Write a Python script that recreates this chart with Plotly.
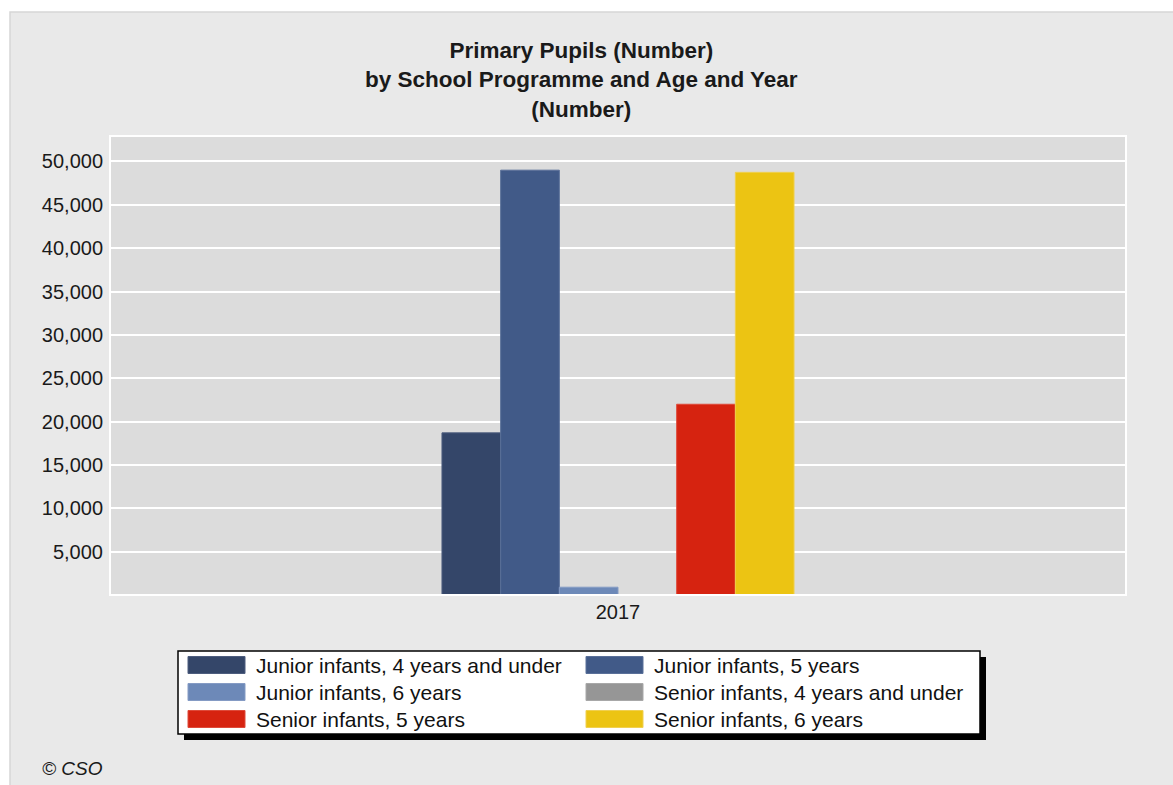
import plotly.graph_objects as go

categories = ["2017"]
series_names = [
    "Junior infants, 4 years and under",
    "Junior infants, 5 years",
    "Junior infants, 6 years",
    "Senior infants, 4 years and under",
    "Senior infants, 5 years",
    "Senior infants, 6 years",
]
series_values = [
    [18700],
    [49000],
    [900],
    [0],
    [22000],
    [48750],
]
series_colors = ["#344669", "#415a88", "#6d89b8", "#969696", "#d62310", "#ecc413"]
line_colors = ["#4d5d7e", "#5a7099", "#859bc4", "#a8a8a8", "#de4a3a", "#f0d050"]
y_ticks = [5000, 10000, 15000, 20000, 25000, 30000, 35000, 40000, 45000, 50000]
y_tick_labels = ["5,000", "10,000", "15,000", "20,000", "25,000", "30,000",
                 "35,000", "40,000", "45,000", "50,000"]

W, H = 1173, 785
L, R, T, B = 110, 47, 136, 190
PW, PH = W - L - R, H - T - B


def xp(px):
    return (px - L) / PW


def yp(py):
    return (H - B - py) / PH


fig = go.Figure()
for name, vals, col, lc in zip(series_names, series_values, series_colors, line_colors):
    fig.add_trace(go.Bar(
        x=categories, y=vals, name=name,
        marker=dict(color=col, line=dict(color=lc, width=1)),
        showlegend=False,
    ))

FONT = "Liberation Sans, Arial, sans-serif"
shapes = []
# outer grey panel
shapes.append(dict(type="rect", xref="paper", yref="paper", layer="below",
                   x0=xp(10), x1=xp(1180), y0=yp(800), y1=yp(12),
                   fillcolor="#e9e9e9", line=dict(color="#d6d6d6", width=1.5)))
# plot area
shapes.append(dict(type="rect", xref="paper", yref="paper", layer="below",
                   x0=0, x1=1, y0=0, y1=1,
                   fillcolor="#dcdcdc", line=dict(width=0)))
shapes.append(dict(type="rect", xref="paper", yref="paper", layer="above",
                   x0=0, x1=1, y0=0, y1=1,
                   fillcolor="rgba(0,0,0,0)", line=dict(color="#ffffff", width=2)))

# legend box with shadow
lx0, lx1, ly0, ly1 = 178, 980, 651, 734
shapes.append(dict(type="rect", xref="paper", yref="paper", layer="above",
                   x0=xp(lx0 + 6), x1=xp(lx1 + 6), y0=yp(ly1 + 6), y1=yp(ly0 + 6),
                   fillcolor="#000000", line=dict(width=0)))
shapes.append(dict(type="rect", xref="paper", yref="paper", layer="above",
                   x0=xp(lx0), x1=xp(lx1), y0=yp(ly1), y1=yp(ly0),
                   fillcolor="#ffffff", line=dict(color="#000000", width=1.5)))

annotations = []
col_x = [188, 586]
row_y = [665, 692, 719]
for i, (name, col) in enumerate(zip(series_names, series_colors)):
    cx = col_x[i % 2]
    cy = row_y[i // 2]
    shapes.append(dict(type="rect", xref="paper", yref="paper", layer="above",
                       x0=xp(cx), x1=xp(cx + 57), y0=yp(cy + 8.5), y1=yp(cy - 8.5),
                       fillcolor=col, line=dict(color=line_colors[i], width=1)))
    annotations.append(dict(xref="paper", yref="paper", x=xp(cx + 66), y=yp(cy),
                            xanchor="left", yanchor="middle", showarrow=False,
                            text=name, font=dict(family=FONT, size=21, color="#111111")))

# title
annotations.append(dict(xref="paper", yref="paper", x=xp(581), y=yp(80),
                        xanchor="center", yanchor="middle", showarrow=False,
                        text="<b>Primary Pupils (Number)</b><br><b>by School Programme and Age and Year</b><br><b>(Number)</b>",
                        font=dict(family=FONT, size=22.5, color="#1a1a1a")))
# source
annotations.append(dict(xref="paper", yref="paper", x=xp(40), y=yp(768),
                        xanchor="left", yanchor="middle", showarrow=False,
                        text="<i>© CSO</i>",
                        font=dict(family=FONT, size=19, color="#1a1a1a")))

fig.update_layout(
    width=W, height=H,
    margin=dict(l=L, r=R, t=T, b=B, pad=0),
    paper_bgcolor="#ffffff",
    plot_bgcolor="#dcdcdc",
    barmode="group",
    bargap=0.6535,
    bargroupgap=0,
    shapes=shapes,
    annotations=annotations,
    showlegend=False,
    font=dict(family=FONT, size=20, color="#1a1a1a"),
)
fig.update_xaxes(type="category", showgrid=False, zeroline=False, showline=False,
                 ticks="", tickfont=dict(family=FONT, size=20, color="#1a1a1a"),
                 ticklabelstandoff=3)
fig.update_yaxes(range=[0, 52940], tickvals=y_ticks, ticktext=y_tick_labels,
                 showgrid=True, gridcolor="#ffffff", gridwidth=1.5,
                 zeroline=False, showline=False, ticks="",
                 tickfont=dict(family=FONT, size=20, color="#1a1a1a"),
                 ticklabelstandoff=6)

fig.write_html("out.html", config={"displayModeBar": False},
               post_script="document.body.style.margin='0';document.body.style.padding='0';")
